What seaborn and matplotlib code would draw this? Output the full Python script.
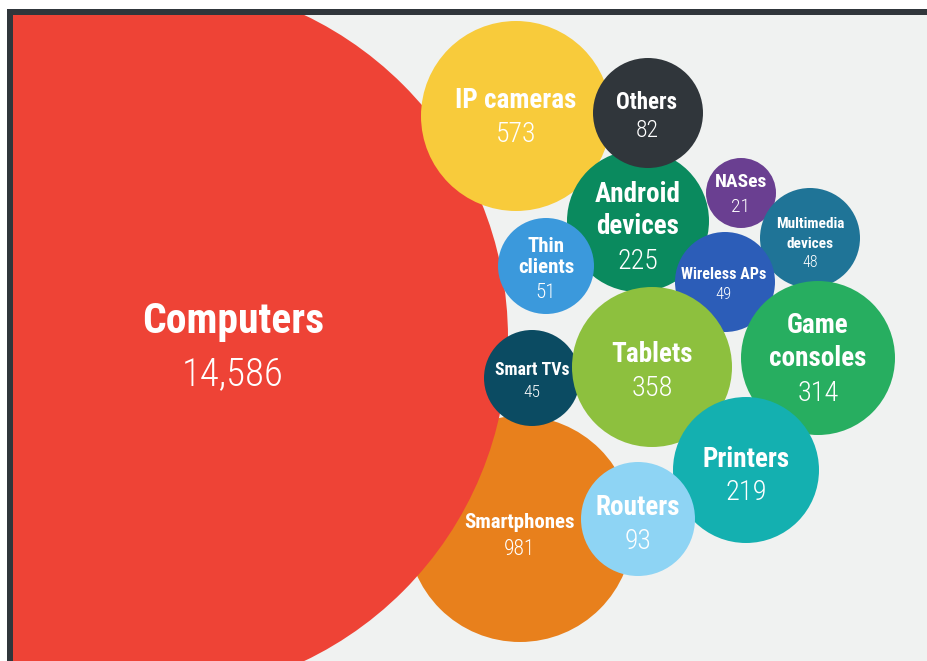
import matplotlib
matplotlib.use("Agg")
import matplotlib.pyplot as plt
from matplotlib.patches import Rectangle
import seaborn as sns
import pandas as pd

# Connected devices by category
categories = ["Smartphones", "Computers", "IP cameras", "Android\ndevices", "Others",
              "Thin\nclients", "Smart TVs", "NASes", "Multimedia\ndevices",
              "Wireless APs", "Tablets", "Game\nconsoles", "Printers", "Routers"]
values = [981, 14586, 573, 225, 82, 51, 45, 21, 48, 49, 358, 314, 219, 93]
colors = ["#e8801c", "#ee4336", "#f8cb3b", "#0a8a5e", "#30363b", "#3b99dc", "#0b4b62",
          "#6a3f91", "#1f7497", "#2c5db8", "#8dc03e", "#27ae60", "#14b0b0", "#8ed4f4"]

# Bubble layout in pixel units (centre x, centre y, radius)
bubble_x = [520, 150, 516, 638, 648, 546, 532, 741, 810, 725, 652, 818, 746, 638]
bubble_y = [529, 338, 116, 221, 113, 266, 378, 193, 238, 282, 367, 358, 470, 519]
bubble_r = [113, 358, 95, 71, 55, 48, 48, 35, 50, 50, 80, 77, 73, 57]

# Label placement: x, baseline of first name line, gap between name lines,
# baseline of the value, font sizes
label_x = [520, 233, 516, 638, 647, 546, 532, 741, 810, 724, 652, 818, 746, 638]
label_base = [528, 333, 108, 202, 109, 252, 375, 187, 228, 279, 362, 333, 467, 515]
line_gap = [0, 0, 0, 32, 0, 21, 0, 0, 20, 0, 0, 33, 0, 0]
value_base = [555, 385, 142, 269, 137, 298, 397, 212, 267, 299, 396, 401, 500, 549]
name_fs = [15, 30, 19.5, 19.5, 16.5, 15, 12.8, 14, 11, 11.5, 19.5, 19.5, 19.5, 19.5]
value_fs = [15.5, 28, 20, 20, 17, 15, 12.5, 14, 11.5, 12, 20.5, 20.5, 20.5, 20]

W, H, DPI = 928, 661, 100
BG = "#f0f2f1"
DARK = "#30363b"

sns.set_theme(style="white")
plt.rcParams["font.family"] = ["Roboto Condensed", "Roboto", "DejaVu Sans"]

df = pd.DataFrame({"category": categories, "value": values,
                   "x": bubble_x, "y": bubble_y, "r": bubble_r})
palette = dict(zip(categories, colors))

fig = plt.figure(figsize=(W / DPI, H / DPI), dpi=DPI, facecolor="white")
# dark frame on the top and left
fig.patches.append(Rectangle((7 / W, 0), 1, (H - 9) / H, transform=fig.transFigure,
                             facecolor=DARK, edgecolor="none", zorder=-5))

left, top = 13, 15
ax = fig.add_axes([left / W, 0, (W - left) / W, (H - top) / H])
ax.set_zorder(2)
ax.set_facecolor(BG)
ax.set_xlim(left, W)
ax.set_ylim(H, top)
ax.set_aspect("auto")

# marker area in points^2 for a circle of radius r pixels
df["s"] = (2 * df["r"] * 72 / DPI) ** 2
sns.scatterplot(data=df, x="x", y="y", hue="category", palette=palette,
                s=df["s"].values, linewidth=0, legend=False, ax=ax, alpha=1)

for i, name in enumerate(categories):
    for j, ln in enumerate(name.split("\n")):
        ax.text(label_x[i], label_base[i] + j * line_gap[i], ln, ha="center",
                va="baseline", color="white", fontsize=name_fs[i], fontweight="bold")
    ax.text(label_x[i], value_base[i], f"{values[i]:,}", ha="center", va="baseline",
            color="white", fontsize=value_fs[i], fontweight="light")

ax.set_xticks([])
ax.set_yticks([])
ax.set_xlabel("")
ax.set_ylabel("")
for sp in ax.spines.values():
    sp.set_visible(False)

fig.savefig("out.png", dpi=DPI, facecolor="white")
